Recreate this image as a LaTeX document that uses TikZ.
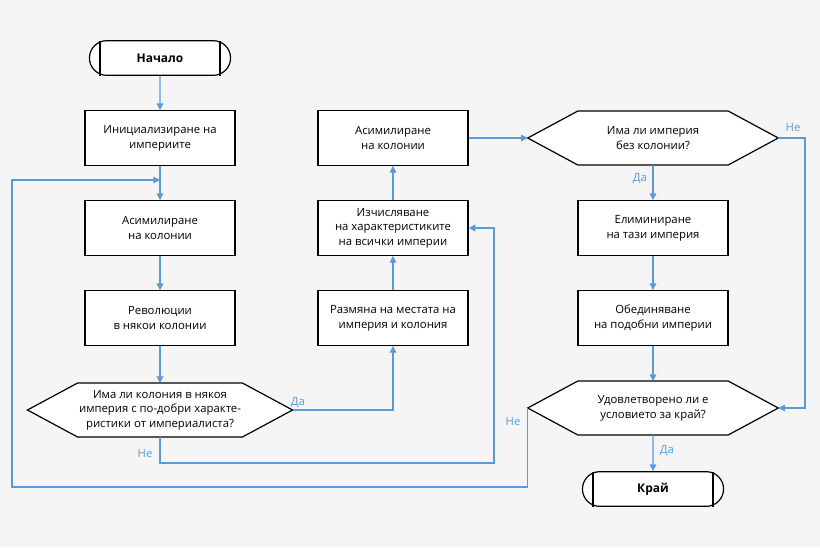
\documentclass[tikz,border=0pt]{standalone}
\usepackage{fontspec}
\setmainfont{Open Sans}
\usetikzlibrary{shapes.misc,calc,backgrounds,arrows.meta}
\definecolor{ln}{HTML}{5B9BD5}
\definecolor{bg}{HTML}{F5F5F5}
\begin{document}
\begin{tikzpicture}[x=0.75pt,y=-0.75pt,
  box/.style={draw=black,fill=white,line width=0.9pt,minimum width=112.5pt,minimum height=41pt,align=center,font=\fontsize{8.5}{11}\selectfont,inner sep=1pt},
  hx/.style={minimum width=112.5pt,minimum height=40pt,align=center,font=\fontsize{8.5}{11}\selectfont,inner sep=1pt},
  term/.style={draw=black,fill=white,line width=0.9pt,rounded rectangle,minimum width=112.5pt,minimum height=26pt,font=\bfseries\fontsize{9}{11}\selectfont},
  arr/.style={draw=ln,line width=0.9pt,-{Triangle[length=5pt,width=5pt]}},
  lab/.style={text=ln,font=\fontsize{8.5}{10}\selectfont,inner sep=1pt}]
\node[term] (start) at (160,58) {Начало};
\draw[line width=0.9pt] ($(start.center)+(-60,-17.5)$) -- ($(start.center)+(-60,17.5)$);
\draw[line width=0.9pt] ($(start.center)+(60,-17.5)$) -- ($(start.center)+(60,17.5)$);
\node[box] (init) at (160,138) {Инициализиране на\\империите};
\node[box] (asl) at (160,228) {Асимилиране\\на колонии};
\node[box] (rev) at (160,318) {Революции\\в някои колонии};
\node[hx] (h1) at (160,410) {Има ли колония в някоя\\империя с по-добри характе-\\ристики от империалиста?};
\node[box] (exch) at (393,318) {Размяна на местата на\\империя и колония};
\node[box] (comp) at (393,228) {Изчисляване\\на характеристиките\\на всички империи};
\node[box] (asm) at (393,138) {Асимилиране\\на колонии};
\node[hx] (h2) at (653,138) {Има ли империя\\без колонии?};
\node[box] (elim) at (653,228) {Елиминиране\\на тази империя};
\node[box] (uni) at (653,318) {Обединяване\\на подобни империи};
\node[hx] (h3) at (653,408) {Удовлетворено ли е\\условието за край?};
\node[term] (end) at (653,489) {Край};
\draw[line width=0.9pt] ($(end.center)+(-60,-17.5)$) -- ($(end.center)+(-60,17.5)$);
\draw[line width=0.9pt] ($(end.center)+(60,-17.5)$) -- ($(end.center)+(60,17.5)$);
\begin{scope}[on background layer]
\fill[bg] (0,0) rectangle (820,547);
\foreach \n in {h1,h2,h3}{
  \draw[fill=white,line width=0.9pt] (\n.north west) -- (\n.north east) -- ($(\n.east)+(50,0)$) -- (\n.south east) -- (\n.south west) -- ($(\n.west)+(-50,0)$) -- cycle;
}
\end{scope}
\coordinate (h1e) at ($(h1.east)+(50,0)$);
\coordinate (h2e) at ($(h2.east)+(50,0)$);
\coordinate (h2w) at ($(h2.west)+(-50,0)$);
\coordinate (h3e) at ($(h3.east)+(50,0)$);
\coordinate (h3w) at ($(h3.west)+(-50,0)$);
\coordinate (j) at (160,180);
\draw[arr] (start) -- (init);
\draw[arr] (init) -- (asl);
\draw[arr] (asl) -- (rev);
\draw[arr] (rev) -- (h1);
\draw[arr] (h1e) -| (exch.south);
\draw[arr] (h1.south) |- (494,463) |- (comp.east);
\draw[arr] (exch) -- (comp);
\draw[arr] (comp) -- (asm);
\draw[arr] (asm.east) -- (h2w);
\draw[arr] (h2.south) -- (elim);
\draw[arr] (h2e) -| (805,300) |- (h3e);
\draw[arr] (elim) -- (uni);
\draw[arr] (uni) -- (h3);
\draw[arr] (h3.south) -- (end);
\draw[arr] (h3w) |- (12,487) |- (j);
\node[lab] at (298,402) {Да};
\node[lab] at (145,453) {Не};
\node[lab] at (640,179) {Да};
\node[lab] at (793,128) {Не};
\node[lab] at (513,421) {Не};
\node[lab] at (667,450) {Да};
\end{tikzpicture}
\end{document}
